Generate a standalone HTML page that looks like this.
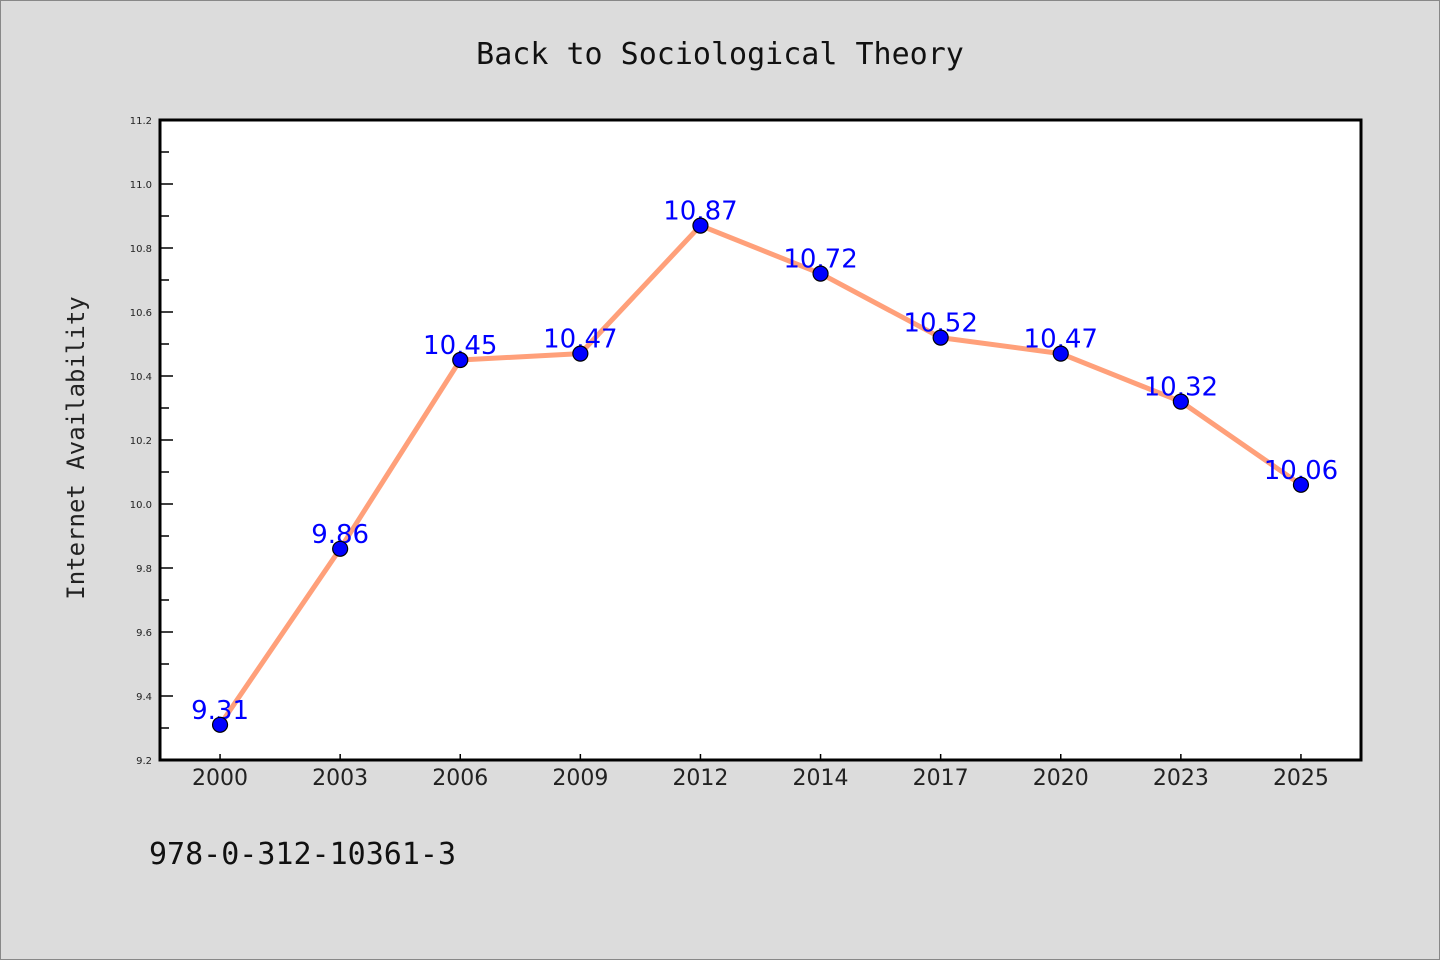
<!DOCTYPE html>
<html><head><meta charset="utf-8"><style>
html,body{margin:0;padding:0;background:#dcdcdc;}
svg{display:block;}
</style></head><body>
<svg id="chart" width="1440" height="960" xmlns="http://www.w3.org/2000/svg">
<rect x="0.5" y="0.5" width="1439" height="959" fill="#dcdcdc" stroke="#888"/>
<text x="720" y="64" text-anchor="middle" font-family="DejaVu Sans Mono, Liberation Mono, monospace" font-size="30" fill="#111">Back to Sociological Theory</text>
<rect x="160" y="120" width="1201" height="640" fill="#fff"/>
<g id="axes"></g>
<g id="marks"></g>
<rect x="160" y="120" width="1201" height="640" fill="none" stroke="#000" stroke-width="3"/>
<text transform="translate(84,448) rotate(-90)" text-anchor="middle" font-family="DejaVu Sans Mono, Liberation Mono, monospace" font-size="24" fill="#222">Internet Availability</text>
<text x="149" y="864" font-family="DejaVu Sans Mono, Liberation Mono, monospace" font-size="30" fill="#111">978-0-312-10361-3</text>
</svg>
<script>
const categories = ["2000","2003","2006","2009","2012","2014","2017","2020","2023","2025"];
const values = [9.31,9.86,10.45,10.47,10.87,10.72,10.52,10.47,10.32,10.06];
const yTicks = [9.2,9.4,9.6,9.8,10.0,10.2,10.4,10.6,10.8,11.0,11.2];
const yMinorTicks = [9.3,9.5,9.7,9.9,10.1,10.3,10.5,10.7,10.9,11.1];

const NS="http://www.w3.org/2000/svg";
const L=160,R=1361,T=120,B=760,yMin=9.2,yMax=11.2;
const band=(R-L)/categories.length;
function xScale(i){return L+band*(i+0.5);}
function yScale(v){return B-(v-yMin)/(yMax-yMin)*(B-T);}
function mk(tag,attrs,parent){const e=document.createElementNS(NS,tag);for(const k in attrs)e.setAttribute(k,attrs[k]);parent.appendChild(e);return e;}
const axes=document.getElementById('axes'),marks=document.getElementById('marks');

yTicks.forEach(v=>{
  const y=yScale(v);
  const t=mk('line',{x1:L,x2:L+13,y1:y,y2:y,stroke:'#000','stroke-width':1.5},axes);
  
  
  const lb=mk('text',{x:L-8,y:y+4,'text-anchor':'end','font-family':'DejaVu Sans, sans-serif','font-size':10,fill:'#222'},axes);
  lb.textContent=v.toFixed(1);
  
  
});
yMinorTicks.forEach(v=>{
  const y=yScale(v);
  const t=mk('line',{x1:L,x2:L+9,y1:y,y2:y,stroke:'#000','stroke-width':1.5},axes);
  
  
});
categories.forEach((c,i)=>{
  const x=xScale(i);
  const t=mk('line',{x1:x,x2:x,y1:B,y2:B-6,stroke:'#000','stroke-width':1.5},axes);
  
  
  const lb=mk('text',{x:x,y:B+25,'text-anchor':'middle','font-family':'DejaVu Sans, sans-serif','font-size':22,fill:'#222'},axes);
  lb.textContent=c;
  
  
});
const pts=values.map((v,i)=>xScale(i)+','+yScale(v)).join(' ');
const line=mk('polyline',{points:pts,fill:'none',stroke:'#ffa07a','stroke-width':5,'stroke-linejoin':'round'},marks);


values.forEach((v,i)=>{
  const lb=mk('text',{x:xScale(i),y:yScale(v)-6,'text-anchor':'middle','font-family':'DejaVu Sans, sans-serif','font-size':26,fill:'#0000ff'},marks);
  lb.textContent=v.toFixed(2);
  
  
});
values.forEach((v,i)=>{
  const c=mk('circle',{cx:xScale(i),cy:yScale(v),r:7.5,fill:'#0000ff',stroke:'#000','stroke-width':1.2},marks);
  
  
});
</script>
</body></html>
